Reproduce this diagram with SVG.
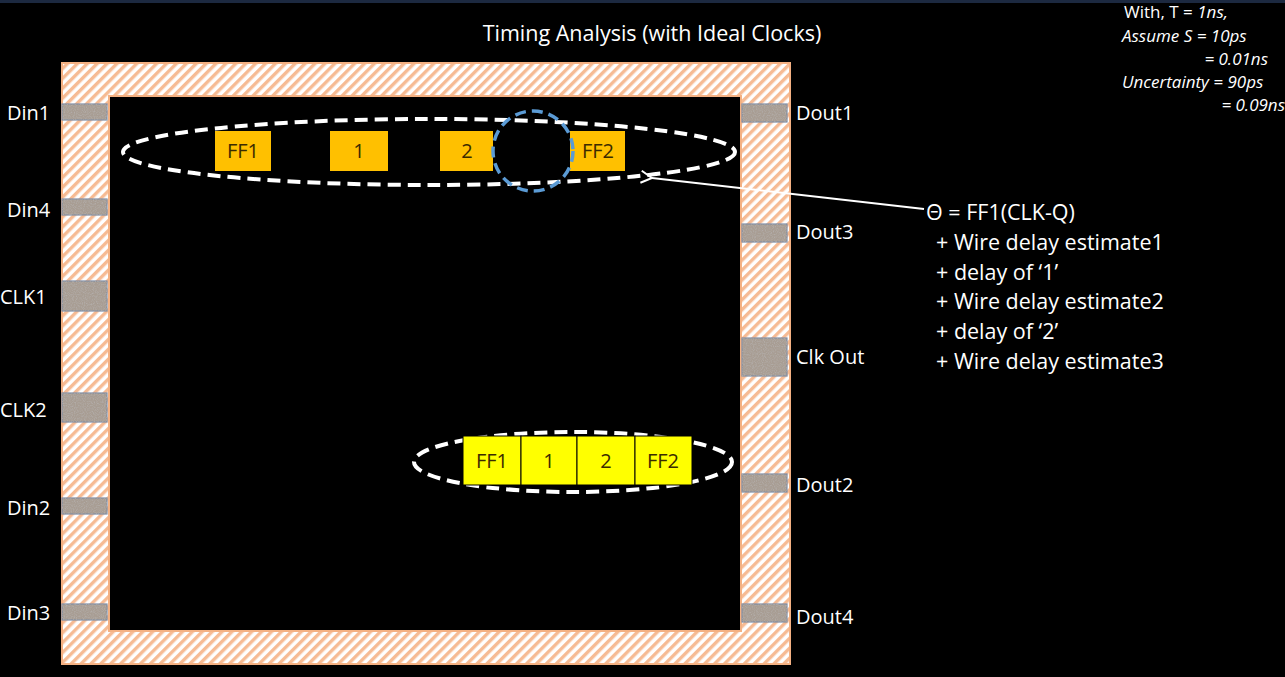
<svg xmlns="http://www.w3.org/2000/svg" width="1285" height="677" viewBox="0 0 1285 677">
<defs>
<pattern id="hatch" patternUnits="userSpaceOnUse" width="7" height="7" patternTransform="rotate(45)">
<rect width="7" height="7" fill="#ffffff"/>
<rect width="3.4" height="7" fill="#f6bb94"/>
</pattern>
<filter id="grain" x="0" y="0" width="100%" height="100%">
<feTurbulence type="fractalNoise" baseFrequency="0.9" numOctaves="2" seed="3" result="n"/>
<feColorMatrix in="n" type="matrix" values="0 0 0 0 0.45  0 0 0 0 0.42  0 0 0 0 0.40  0 0 0 -2.2 1.3" result="c"/>
<feComposite in="c" in2="SourceGraphic" operator="in"/>
</filter>
<marker id="open" markerWidth="14" markerHeight="14" refX="1" refY="7" orient="auto-start-reverse" markerUnits="userSpaceOnUse">
<path d="M12,1 L1,7 L12,13" fill="none" stroke="#ffffff" stroke-width="2"/>
</marker>
<style>
.lbl{font-family:"Open Sans","Liberation Sans",sans-serif;font-size:20px;fill:#ffffff;}
.pin{fill:#a89d93;stroke:#7f8ea6;stroke-width:1.2;}
.ob{fill:#ffc000;}
.ybox{fill:#ffff00;stroke:#000000;stroke-width:1;}
.bt{font-family:"Open Sans","Liberation Sans",sans-serif;font-size:20px;fill:#3b2b00;text-anchor:middle;}
.ell{fill:none;stroke:#ffffff;stroke-width:4;stroke-dasharray:13 7;}
.note{font-family:"Open Sans","Liberation Sans",sans-serif;font-size:17px;fill:#ffffff;}
.eq{font-family:"Open Sans","Liberation Sans",sans-serif;font-size:21.5px;fill:#ffffff;}
</style>
</defs>
<rect width="1285" height="677" fill="#000000"/>
<rect width="1285" height="3" fill="#1c2940"/>

<text x="652" y="41" text-anchor="middle" class="lbl" style="font-size:21.5px">Timing Analysis (with Ideal Clocks)</text>

<g id="notes">
<text x="1124" y="18" class="note">With, T = <tspan font-style="italic">1ns,</tspan></text>
<text x="1122" y="42" class="note" font-style="italic">Assume S = 10ps</text>
<text x="1268" y="65" class="note" font-style="italic" text-anchor="end">= 0.01ns</text>
<text x="1122" y="88" class="note" font-style="italic">Uncertainty = 90ps</text>
<text x="1285" y="111" class="note" font-style="italic" text-anchor="end">= 0.09ns</text>
</g>

<g id="chip">
<rect x="62" y="63" width="728" height="601" fill="url(#hatch)" stroke="#f4b183" stroke-width="2"/>
<rect x="109" y="96" width="632" height="535" fill="#000000" stroke="#f4b183" stroke-width="2"/>
</g>

<g id="pins-left">
<g id="din1"><rect class="pin" x="62" y="104" width="45" height="16"/><rect x="62" y="104" width="45" height="16" filter="url(#grain)" fill="#000"/><text x="7" y="120" class="lbl">Din1</text></g>
<g id="din4"><rect class="pin" x="62" y="199" width="45" height="16"/><rect x="62" y="199" width="45" height="16" filter="url(#grain)" fill="#000"/><text x="7" y="217" class="lbl">Din4</text></g>
<g id="clk1"><rect class="pin" x="62" y="281" width="45" height="30"/><rect x="62" y="281" width="45" height="30" filter="url(#grain)" fill="#000"/><text x="0" y="304" class="lbl">CLK1</text></g>
<g id="clk2"><rect class="pin" x="62" y="393" width="45" height="29"/><rect x="62" y="393" width="45" height="29" filter="url(#grain)" fill="#000"/><text x="0" y="417" class="lbl">CLK2</text></g>
<g id="din2"><rect class="pin" x="62" y="498" width="45" height="16"/><rect x="62" y="498" width="45" height="16" filter="url(#grain)" fill="#000"/><text x="7" y="515" class="lbl">Din2</text></g>
<g id="din3"><rect class="pin" x="62" y="604" width="45" height="16"/><rect x="62" y="604" width="45" height="16" filter="url(#grain)" fill="#000"/><text x="7" y="620" class="lbl">Din3</text></g>
</g>

<g id="pins-right">
<g id="dout1"><rect class="pin" x="742" y="104" width="45" height="18"/><rect x="742" y="104" width="45" height="18" filter="url(#grain)" fill="#000"/><text x="796" y="120" class="lbl">Dout1</text></g>
<g id="dout3"><rect class="pin" x="742" y="224" width="45" height="18"/><rect x="742" y="224" width="45" height="18" filter="url(#grain)" fill="#000"/><text x="796" y="239" class="lbl">Dout3</text></g>
<g id="clkout"><rect class="pin" x="742" y="338" width="45" height="38"/><rect x="742" y="338" width="45" height="38" filter="url(#grain)" fill="#000"/><text x="796" y="364" class="lbl">Clk Out</text></g>
<g id="dout2"><rect class="pin" x="742" y="474" width="45" height="18"/><rect x="742" y="474" width="45" height="18" filter="url(#grain)" fill="#000"/><text x="796" y="492" class="lbl">Dout2</text></g>
<g id="dout4"><rect class="pin" x="742" y="604" width="45" height="18"/><rect x="742" y="604" width="45" height="18" filter="url(#grain)" fill="#000"/><text x="796" y="624" class="lbl">Dout4</text></g>
</g>

<g id="path-top">
<ellipse class="ell" cx="429" cy="152" rx="306" ry="33"/>
<g id="ff1-top"><rect class="ob" x="215" y="131" width="56" height="40"/><text x="243" y="158" class="bt">FF1</text></g>
<g id="g1-top"><rect class="ob" x="330" y="131" width="58" height="40"/><text x="359" y="158" class="bt">1</text></g>
<g id="g2-top"><rect class="ob" x="440" y="131" width="53" height="40"/><text x="467" y="158" class="bt">2</text></g>
<g id="ff2-top"><rect class="ob" x="570" y="131" width="55" height="40"/><text x="598" y="158" class="bt">FF2</text></g>
<circle cx="533" cy="151" r="40" fill="none" stroke="#5b9bd5" stroke-width="3.5" stroke-dasharray="11 6"/>
</g>

<g id="path-bottom">
<ellipse class="ell" cx="573" cy="462" rx="159" ry="30"/>
<g id="ff1-bot"><rect class="ybox" x="463" y="436" width="58" height="49"/><text x="492" y="468" class="bt">FF1</text></g>
<g id="g1-bot"><rect class="ybox" x="521" y="436" width="56" height="49"/><text x="549" y="468" class="bt">1</text></g>
<g id="g2-bot"><rect class="ybox" x="577" y="436" width="58" height="49"/><text x="606" y="468" class="bt">2</text></g>
<g id="ff2-bot"><rect class="ybox" x="635" y="436" width="57" height="49"/><text x="663" y="468" class="bt">FF2</text></g>
</g>

<g id="connectors">
<line x1="924" y1="209" x2="652" y2="178" stroke="#ffffff" stroke-width="2" marker-end="url(#open)"/>
</g>

<g id="equation">
<text x="926" y="220" class="eq">Θ = FF1(CLK-Q)</text>
<text x="936" y="250" class="eq">+ Wire delay estimate1</text>
<text x="936" y="280" class="eq">+ delay of ‘1’</text>
<text x="936" y="309" class="eq">+ Wire delay estimate2</text>
<text x="936" y="339" class="eq">+ delay of ‘2’</text>
<text x="936" y="369" class="eq">+ Wire delay estimate3</text>
</g>
</svg>
